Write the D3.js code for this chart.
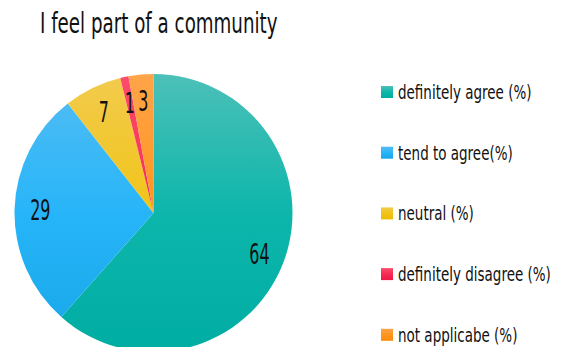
<!DOCTYPE html>
<html>
<head>
<meta charset="utf-8">
<script src="https://cdn.jsdelivr.net/npm/d3@7/dist/d3.min.js"></script>
<style>
  html, body { margin: 0; padding: 0; background: #fff; }
  svg text { font-family: "DejaVu Sans", sans-serif; fill: #111; }
</style>
</head>
<body>
<svg id="chart" width="566" height="347"></svg>
<script>
// Survey answers for "I feel part of a community"
const categories = ["definitely agree (%)", "tend to agree(%)", "neutral (%)", "definitely disagree (%)", "not applicabe (%)"];
const values = [64, 29, 7, 1, 3];
const colorsTop = ["#4cc0b8", "#55bdf3", "#f2cb4e", "#fc4d6c", "#ffa449"];
const colorsMid = ["#0db6ab", "#27b5f9", "#f1c417", "#f62a55", "#ff951e"];
const colorsBottom = ["#00ada3", "#16a6e6", "#ecbc00", "#ee1746", "#ff8a08"];

const svg = d3.select("#chart");
const cx = 153.5, cy = 213, r = 139;

const defs = svg.append("defs");
function addGradient(id, i, userSpace) {
  const grad = defs.append("linearGradient").attr("id", id);
  if (userSpace) {
    grad.attr("gradientUnits", "userSpaceOnUse")
      .attr("x1", 0).attr("y1", -r).attr("x2", 0).attr("y2", r);
  } else {
    grad.attr("x1", 0).attr("y1", 0).attr("x2", 0).attr("y2", 1);
  }
  grad.append("stop").attr("offset", "0%").attr("stop-color", colorsTop[i]);
  grad.append("stop").attr("offset", "50%").attr("stop-color", colorsMid[i]);
  grad.append("stop").attr("offset", "100%").attr("stop-color", colorsBottom[i]);
}
categories.forEach((c, i) => {
  addGradient("grad" + i, i, true);
  addGradient("lgrad" + i, i, false);
});

// Condensed text: DejaVu glyphs squeezed horizontally
function condensedText(parent, x, y, str, size, sx, anchor) {
  return parent.append("g")
    .attr("transform", `translate(${x},${y}) scale(${sx},1)`)
    .append("text")
    .style("font-size", size + "px")
    .attr("text-anchor", anchor || "start")
    .text(str);
}

// Title
condensedText(svg, 40, 33, "I feel part of a community", 29, 0.63);

// Pie
const pie = d3.pie().sort(null).value(d => d);
const arcs = pie(values);
const arc = d3.arc().innerRadius(0).outerRadius(r);
const labelArc = d3.arc().innerRadius(r * 0.815).outerRadius(r * 0.815);

const g = svg.append("g").attr("transform", `translate(${cx},${cy})`);
g.selectAll("path").data(arcs).enter().append("path")
  .attr("d", arc)
  .attr("fill", (d, i) => `url(#grad${i})`);

arcs.forEach(d => {
  const [lx, ly] = labelArc.centroid(d);
  condensedText(g, lx, ly + 10.5, String(d.data), 29, 0.55, "middle");
});

// Legend
const legend = svg.append("g").attr("transform", "translate(381,86)");
categories.forEach((c, i) => {
  const item = legend.append("g").attr("transform", `translate(0,${i * 60.7})`);
  item.append("rect")
    .attr("width", 12).attr("height", 12)
    .attr("fill", `url(#lgrad${i})`);
  condensedText(item, 17, 13, c, 19, 0.71);
});
</script>
</body>
</html>
